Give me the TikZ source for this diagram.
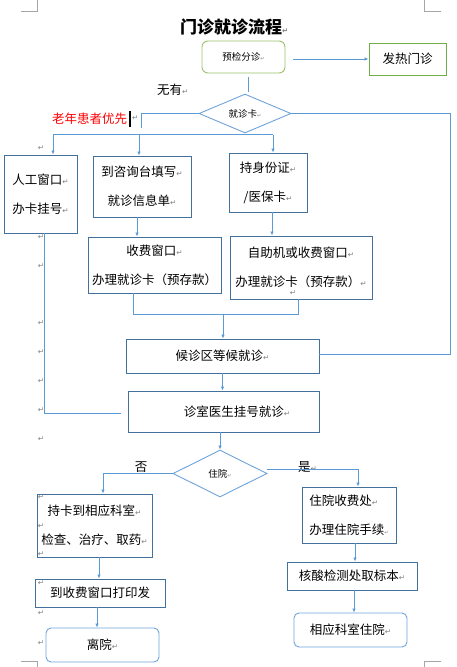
\documentclass[tikz,border=0pt]{standalone}
\usepackage{fontspec}
\newfontfamily\cjk{Noto Sans CJK SC}
\newfontfamily\dvsans{DejaVu Sans}
\usetikzlibrary{shapes.geometric,arrows.meta}
\definecolor{boxc}{HTML}{41719C}
\definecolor{linec}{HTML}{5B9BD5}
\definecolor{lightb}{HTML}{6FA3DC}
\definecolor{greenr}{HTML}{9BC36B}
\definecolor{greenb}{HTML}{70AD47}
\definecolor{markc}{HTML}{7F7F7F}
\definecolor{cropc}{HTML}{A6A6A6}
\newcommand\pmk{{\dvsans\fontsize{7.5}{7.5}\selectfont\textcolor{markc}{↵}}}
\newcommand\pmks{{\dvsans\fontsize{5}{5}\selectfont\textcolor{markc}{↵}}}
\begin{document}
\begin{tikzpicture}[x=1pt,y=-1pt,
  box/.style={draw=boxc, line width=0.9pt, fill=white, inner sep=0pt, align=center,
    font=\cjk\fontsize{12.5}{29}\selectfont},
  rbox/.style={box, draw=lightb, rounded corners=5pt},
  gbox/.style={box, draw=greenb},
  dia/.style={diamond, draw=lightb, line width=0.9pt, fill=white, inner sep=0pt, aspect=2.4,
    font=\cjk\fontsize{9.5}{11}\selectfont},
  conn/.style={draw=linec, line width=1pt},
  arr/.style={conn, -{Latex[length=4pt,width=3.5pt]}},
  txt/.style={inner sep=0pt, font=\cjk\fontsize{12.5}{15}\selectfont},
  pmark/.style={inner sep=0pt, font=\dvsans\fontsize{7.5}{7.5}\selectfont, text=markc},
  crop/.style={draw=cropc, line width=0.8pt}]
\useasboundingbox (0,0) rectangle (457,667);

% crop marks
\draw[crop] (21,11) -- (37,11) -- (37,0);
\draw[crop] (424,0) -- (424,11) -- (441,11);
\draw[crop] (21,661) -- (37,661) -- (37,667);
\draw[crop] (441,661) -- (424,661) -- (424,667);

% title and free texts
\node[txt, anchor=west, font=\cjk\bfseries\fontsize{17}{20}\selectfont] (title) at (180,27) {门诊就诊流程\pmk};
\node[txt, anchor=west] (wy) at (157,90) {无有\pmk};
\node[txt, anchor=west, text=red] (lr) at (52,119) {老年患者优先};
\draw[line width=1.6pt] (130,111) -- (130,127);
\node[pmark, anchor=west] (lrm) at (132,118) {↵};
\node[txt] (fou) at (141,467) {否};
\node[txt, anchor=west] (shi) at (298,467) {是\pmk};

% boxes
\node[box, draw=greenr, rounded corners=6pt, minimum width=83pt, minimum height=32pt,
  font=\cjk\fontsize{9.5}{11}\selectfont] (yj) at (243.5,57) {预检分诊\pmks};
\node[gbox, minimum width=77pt, minimum height=32pt] (fr) at (407.5,59) {发热门诊};
\node[dia, minimum width=92pt, minimum height=39pt] (dz) at (245,113.5) {就诊卡\pmks};

\node[box, minimum width=73pt, minimum height=78pt] (rg) at (40.5,194) {人工窗口\pmk\\办卡挂号\pmk};
\node[box, minimum width=98pt, minimum height=61pt] (zx) at (142,186.5) {到咨询台填写\pmk\\就诊信息单\pmk};
\node[box, minimum width=78pt, minimum height=59pt] (cs) at (268,182.5) {持身份证\pmk\\/医保卡\pmk};
\node[box, minimum width=133pt, minimum height=56pt] (sf) at (154.5,265) {收费窗口\pmk\\办理就诊卡（预存款）};
\node[box, minimum width=142pt, minimum height=63pt] (zz) at (301,267.5) {自助机或收费窗口\pmk\\办理就诊卡（预存款）\pmk};
\node[box, minimum width=193pt, minimum height=34pt] (hz) at (222.5,356) {候诊区等候就诊\pmk};
\node[box, minimum width=191pt, minimum height=41pt] (zs) at (223.5,411.5) {\hspace*{27pt}诊室医生挂号就诊\pmk};
\node[dia, minimum width=94pt, minimum height=47pt] (zy) at (220,473.5) {住院\pmks};

\node[box, minimum width=115pt, minimum height=63pt] (ck) at (94.5,525.5) {持卡到相应科室\pmk\\检查、治疗、取药\pmk};
\node[box, minimum width=130pt, minimum height=28pt] (dy) at (100,593) {到收费窗口打印发};
\node[rbox, minimum width=113pt, minimum height=34pt] (ly) at (102.5,645) {离院\pmk};
\node[box, align=left, minimum width=94pt, minimum height=56pt] (zf) at (349,515) {住院收费处\pmk\\办理住院手续\pmks};
\node[box, minimum width=130pt, minimum height=28pt] (hs) at (352,576) {核酸检测处取标本\pmk};
\node[rbox, minimum width=113pt, minimum height=34pt] (xy) at (350.5,630) {相应科室住院\pmk};

% connectors
\draw[arr, shorten <=8pt] (yj.east |- fr.west) -- (fr.west);
\coordinate (q0) at ([xshift=4.5pt]yj.south);
\draw[conn, shorten <=4pt, shorten >=2pt] (q0) -- (q0 |- dz.north);

\coordinate (c1) at (141,128);
\draw[conn] (dz.west) -| (c1);
\coordinate (d1) at (53,134.5);
\coordinate (d2) at (139,134.5);
\coordinate (d3) at (273,134.5);
\draw[conn] (d1) -- (d3);
\draw[arr] (d1) -- (d1 |- rg.north);
\draw[arr] (d2) -- (d2 |- zx.north);
\draw[arr] (d3) -- (d3 |- cs.north);

\coordinate (c4) at (450,354);
\draw[conn] (dz.east) -| (c4) -- (c4 -| hz.east);

\coordinate (q1) at ([xshift=-5pt]zx.south);
\draw[arr] (q1) -- (q1 |- sf.north);
\coordinate (q2) at ([xshift=4pt]cs.south);
\draw[arr] (q2) -- (q2 |- zz.north);

\coordinate (c5) at (44,413);
\draw[conn, shorten >=7pt] (rg.south -| c5) -- (c5) -- (zs.west |- c5);

\coordinate (m1) at (133,314);
\coordinate (m2) at (298,314);
\coordinate (m3) at (223,314);
\draw[conn] (sf.south -| m1) -- (m1) -- (m2) -- (zz.south -| m2);
\draw[arr] (m3) -- (m3 |- hz.north);
\draw[arr] (hz.south) -- (hz.south |- zs.north);
\draw[arr] (zy.north |- zs.south) -- (zy.north);

\coordinate (n1) at (103,473.5);
\draw[arr] (zy.west) -- (n1) -- (n1 |- ck.north);
\coordinate (q3) at ([yshift=4.5pt]zy.east);
\coordinate (n2) at (358,469);
\draw[arr] (q3) -- (n2) -- (n2 |- zf.north);

\coordinate (q4) at ([xshift=4.5pt]ck.south);
\draw[arr] (q4) -- (q4 |- dy.north);
\coordinate (q5) at ([xshift=-3pt]dy.south);
\draw[arr] (q5) -- (q5 |- ly.north);
\coordinate (q6) at ([xshift=6pt]zf.south);
\draw[arr] (q6) -- (q6 |- hs.north);
\coordinate (q7) at ([xshift=2pt]hs.south);
\draw[arr] (q7) -- (q7 |- xy.north);

% paragraph marks in the margin
\foreach \yy [count=\i] in {148,237,266,323,352,381,410,439,497,526,554,583,613,643}
  \node[pmark] (pm\i) at (41,\yy) {↵};
\node[pmark] (pmz) at (293,293) {↵};
\end{tikzpicture}
\end{document}
